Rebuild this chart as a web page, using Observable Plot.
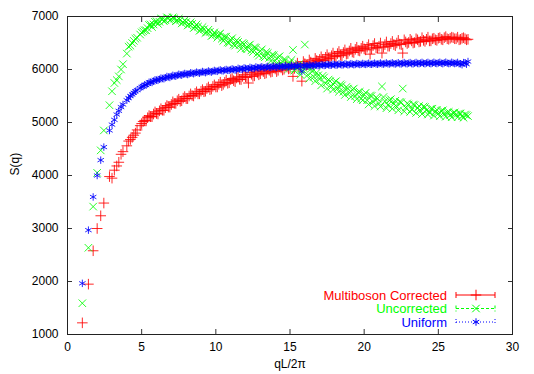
<!DOCTYPE html>
<html><head><meta charset="utf-8">
<script src="https://cdn.jsdelivr.net/npm/d3@7"></script>
<script src="https://cdn.jsdelivr.net/npm/@observablehq/plot@0.6"></script>
<style>
body{margin:0;background:#fff;}
svg{display:block;}
</style>
</head><body><div id="chart"></div>
<script>
// qL/2π positions (shared by the three series)
const q = [
  1, 1.41, 1.73, 2, 2.24, 2.45, 2.83, 3, 3.16, 3.32, 3.46, 3.61, 3.74, 4, 4.12, 4.24, 4.36, 4.47, 4.58, 4.69, 4.9, 5, 5.1, 5.2,
  5.4, 5.6, 5.8, 6, 6.2, 6.4, 6.6, 6.8, 7, 7.2, 7.4, 7.6, 7.8, 8, 8.2, 8.4, 8.6, 8.8, 9, 9.2, 9.4, 9.6, 9.8, 10,
  10.2, 10.4, 10.6, 10.8, 11, 11.2, 11.4, 11.6, 11.8, 12, 12.2, 12.4, 12.6, 12.8, 13, 13.2, 13.4, 13.6, 13.8, 14,
  14.2, 14.4, 14.6, 14.8, 15, 15.2, 15.4, 15.6, 15.8, 16, 16.2, 16.4, 16.6, 16.8, 17, 17.2, 17.4, 17.6, 17.8, 18,
  18.2, 18.4, 18.6, 18.8, 19, 19.2, 19.4, 19.6, 19.8, 20, 20.2, 20.4, 20.6, 20.8, 21, 21.2, 21.4, 21.6, 21.8, 22,
  22.2, 22.4, 22.6, 22.8, 23, 23.2, 23.4, 23.6, 23.8, 24, 24.2, 24.4, 24.6, 24.8, 25, 25.2, 25.4, 25.6, 25.8, 26,
  26.2, 26.4, 26.6, 26.8, 27
];
const multiboson = [
  1220, 1950, 2580, 3000, 3240, 3480, 3980, 3950, 4100, 4180, 4250, 4400, 4450, 4560, 4650, 4680, 4720, 4760, 4800, 4860, 4940, 4980, 5020, 5040,
  5090, 5110, 5160, 5170, 5220, 5230, 5280, 5290, 5340, 5360, 5410, 5400, 5460, 5450, 5500, 5510, 5550, 5540, 5590, 5580, 5640, 5620, 5680, 5670,
  5720, 5695, 5760, 5740, 5810, 5790, 5840, 5815, 5870, 5860, 5745, 5910, 5880, 5935, 5920, 5960, 5935, 5985, 5960, 6010,
  5985, 6030, 6005, 6045, 6020, 5870, 6070, 6050, 5780, 6110, 6090, 6140, 6120, 6170, 6190, 6180, 6230, 6210, 6260, 6250,
  6300, 6270, 6320, 6290, 6350, 6330, 6380, 6360, 6400, 6390, 6420, 6290, 6450, 6410, 6440, 6310, 6470, 6440, 6490, 6470,
  6500, 6480, 6310, 6520, 6510, 6540, 6510, 6560, 6530, 6550, 6570, 6540, 6580, 6560, 6590, 6570, 6600, 6580, 6590, 6600,
  6580, 6560, 6590, 6580, 6570
];
const uncorrected = [
  1590, 2636, 3413, 4050, 4474, 4850, 5326, 5589, 5745, 5800, 5870, 6000, 6100, 6300, 6430, 6450, 6500, 6540, 6580, 6600, 6660, 6700, 6720, 6740,
  6780, 6850, 6850, 6910, 6900, 6950, 6930, 6970, 6950, 6965, 6930, 6935, 6890, 6895, 6850, 6860, 6800, 6810, 6750, 6760, 6700, 6710, 6650, 6660,
  6660, 6580, 6620, 6510, 6560, 6470, 6550, 6460, 6500, 6400, 6450, 6360, 6420, 6300, 6350, 6250, 6330, 6220, 6280, 6170,
  6230, 6120, 6190, 6080, 6130, 6370, 6020, 6100, 5960, 6470, 5900, 6010, 5860, 5940, 5820, 5880, 5740, 5810, 5680, 5760,
  5640, 5720, 5580, 5670, 5560, 5620, 5500, 5570, 5450, 5530, 5420, 5510, 5390, 5470, 5360, 5680, 5400, 5330, 5440, 5350,
  5300, 5390, 5640, 5280, 5340, 5250, 5330, 5270, 5220, 5300, 5230, 5190, 5260, 5200, 5170, 5220, 5160, 5190, 5140, 5180,
  5150, 5170, 5120, 5150, 5120
];
const uniform = [
  1965, 2969, 3595, 4000, 4290, 4536, 4850, 4960, 5050, 5150, 5220, 5290, 5340, 5420, 5460, 5500, 5530, 5560, 5590, 5610, 5650, 5670, 5690, 5710,
  5730, 5760, 5780, 5800, 5815, 5830, 5845, 5860, 5870, 5880, 5890, 5900, 5910, 5915, 5920, 5930, 5935, 5940, 5945, 5950, 5955, 5960, 5965, 5970,
  5982, 5978, 5990, 5985, 5998, 6000, 5995, 6010, 6008, 6020, 6015, 6028, 6022, 6035, 6040, 6036, 6045, 6040, 6050, 6048,
  6055, 6050, 6058, 6052, 6062, 6058, 6066, 6062, 5965, 6072, 6068, 6075, 6072, 6080, 6078, 6085, 6080, 6088, 6084, 6092,
  6088, 6095, 6090, 6098, 6094, 6100, 6096, 6104, 6098, 6102, 6105, 6100, 6108, 6104, 6110, 6106, 6112, 6108, 6114, 6110,
  6114, 6108, 6116, 6112, 6118, 6112, 6118, 6114, 6120, 6116, 6122, 6116, 6120, 6118, 6124, 6118, 6125, 6120, 6115, 6122,
  6118, 6110, 6090, 6125, 6150
];
// interleaved denser sampling of the bands
const qMid = [
  5.3, 5.5, 5.7, 5.9, 6.1, 6.3, 6.5, 6.7, 6.9, 7.1, 7.3, 7.5, 7.7, 7.9, 8.1, 8.3, 8.5, 8.7, 8.9, 9.1, 9.3, 9.5, 9.7, 9.9,
  10.1, 10.3, 10.5, 10.7, 10.9, 11.1, 11.3, 11.5, 11.7, 11.9, 12.1, 12.3, 12.5, 12.7, 12.9, 13.1, 13.3, 13.5, 13.7, 13.9,
  14.1, 14.3, 14.5, 14.7, 14.9, 15.1, 15.3, 15.5, 15.7, 15.9, 16.1, 16.3, 16.5, 16.7, 16.9, 17.1, 17.3, 17.5, 17.7, 17.9,
  18.1, 18.3, 18.5, 18.7, 18.9, 19.1, 19.3, 19.5, 19.7, 19.9, 20.1, 20.3, 20.5, 20.7, 20.9, 21.1, 21.3, 21.5, 21.7, 21.9,
  22.1, 22.3, 22.5, 22.7, 22.9, 23.1, 23.3, 23.5, 23.7, 23.9, 24.1, 24.3, 24.5, 24.7, 24.9, 25.1, 25.3, 25.5, 25.7, 25.9,
  26.1, 26.3, 26.5, 26.7, 26.9
];
const multibosonMid = [
  5030, 5130, 5110, 5200, 5160, 5260, 5230, 5320, 5290, 5390, 5360, 5440, 5410, 5490, 5450, 5540, 5500, 5580, 5540, 5620, 5590, 5670, 5630, 5710,
  5670, 5760, 5720, 5800, 5750, 5830, 5770, 5860, 5810, 5900, 5850, 5940, 5870, 5970, 5900, 5990, 5920, 6010, 5950, 6030,
  5960, 6050, 5990, 6070, 6010, 6090, 6020, 6120, 6050, 6150, 6080, 6180, 6110, 6210, 6150, 6240, 6170, 6280, 6200, 6310,
  6240, 6340, 6260, 6370, 6300, 6400, 6320, 6420, 6350, 6440, 6370, 6470, 6390, 6490, 6410, 6500, 6420, 6520, 6440, 6530,
  6450, 6550, 6470, 6560, 6490, 6570, 6500, 6580, 6520, 6600, 6530, 6610, 6540, 6590, 6550, 6600, 6560, 6620, 6570, 6610,
  6580, 6610, 6570, 6600, 6560
];
const uncorrectedMid = [
  6740, 6840, 6800, 6900, 6860, 6960, 6910, 6985, 6930, 6985, 6910, 6960, 6870, 6930, 6830, 6890, 6780, 6850, 6730, 6800, 6690, 6750, 6630, 6700,
  6600, 6680, 6540, 6620, 6500, 6590, 6450, 6520, 6390, 6480, 6380, 6470, 6330, 6410, 6260, 6380, 6230, 6310, 6160, 6270,
  6110, 6250, 6060, 6180, 6010, 6180, 5980, 6060, 5900, 6030, 6050, 5830, 5960, 5780, 5890, 5700, 5850, 5640, 5780, 5620,
  5780, 5580, 5700, 5520, 5640, 5480, 5640, 5440, 5580, 5420, 5560, 5340, 5500, 5310, 5450, 5300, 5480, 5270, 5420, 5260,
  5410, 5230, 5380, 5210, 5360, 5200, 5340, 5180, 5310, 5160, 5290, 5150, 5260, 5130, 5240, 5120, 5230, 5110, 5200, 5100,
  5190, 5100, 5170, 5090, 5140
];
const uniformMid = [
  5705, 5760, 5755, 5805, 5795, 5838, 5825, 5868, 5850, 5890, 5872, 5910, 5892, 5925, 5905, 5938, 5920, 5950, 5930, 5962, 5940, 5972, 5950, 5982,
  5965, 5992, 5975, 6000, 5985, 6012, 5990, 6022, 6002, 6030, 6008, 6040, 6018, 6048, 6030, 6052, 6032, 6058, 6040, 6064,
  6042, 6066, 6048, 6070, 6052, 6074, 6056, 6078, 6060, 6082, 6064, 6086, 6068, 6090, 6072, 6094, 6076, 6098, 6080, 6100,
  6082, 6104, 6086, 6106, 6088, 6110, 6090, 6112, 6094, 6114, 6096, 6118, 6098, 6120, 6100, 6122, 6102, 6124, 6104, 6126,
  6104, 6128, 6106, 6130, 6108, 6130, 6106, 6132, 6110, 6134, 6108, 6134, 6110, 6136, 6112, 6136, 6110, 6138, 6112, 6136,
  6112, 6134, 6108, 6130, 6100
];
const seriesNames = ["Multiboson Corrected", "Uncorrected", "Uniform"];
const xTicks = [0, 5, 10, 15, 20, 25, 30];
const yTicks = [1000, 2000, 3000, 4000, 5000, 6000, 7000];

const colors = ["#ff0000", "#00ff00", "#0000ff"];
const symbols = ["plus", "times", "asterisk"];
const seriesValues = [[multiboson, multibosonMid], [uncorrected, uncorrectedMid], [uniform, uniformMid]];
const rows = seriesValues.map(([a, b]) => [
  ...q.map((x, i) => ({x, y: a[i]})),
  ...qMid.map((x, i) => ({x, y: b[i]}))
]);

const font = "'Liberation Sans', Arial, Helvetica, sans-serif";

const plot = Plot.plot({
  width: 534,
  height: 374,
  marginLeft: 67,
  marginRight: 22,
  marginTop: 16,
  marginBottom: 40,
  style: {fontFamily: font, fontSize: "12px", color: "#000", background: "#fff"},
  x: {domain: [0, 30]},
  y: {domain: [1000, 7000]},
  marks: [
    ...rows.map((data, k) => Plot.dot(data, {x: "x", y: "y", symbol: () => symbols[k], r: 3.5, stroke: colors[k], strokeWidth: 1, strokeOpacity: 0.85, fill: "none"})),
    Plot.axisX({ticks: xTicks, tickSize: 0, tickPadding: 8, label: null, fontSize: 12}),
    Plot.axisY({ticks: yTicks, tickSize: 0, tickPadding: 9, tickFormat: "d", label: null, fontSize: 12}),
    Plot.axisX({ticks: xTicks, anchor: "bottom", tickSize: -5, tickFormat: () => "", label: null, stroke: "#333"}),
    Plot.axisX({ticks: xTicks, anchor: "top", tickSize: -5, tickFormat: () => "", label: null, stroke: "#333"}),
    Plot.axisY({ticks: yTicks, anchor: "left", tickSize: -5, tickFormat: () => "", label: null, stroke: "#333"}),
    Plot.axisY({ticks: yTicks, anchor: "right", tickSize: -5, tickFormat: () => "", label: null, stroke: "#333"}),
    Plot.frame({stroke: "#222"}),
    Plot.text(["S(q)"], {frameAnchor: "left", dx: -52, rotate: -90, fontSize: 12}),
    Plot.text(["qL/2π"], {frameAnchor: "bottom", dy: 33, fontSize: 12})
  ]
});
document.getElementById("chart").appendChild(plot);

// Legend (gnuplot style, inside lower right)
const svg = d3.select(plot);
const dashes = [null, "3,2", "1,2"];
const d3sym = [d3.symbolPlus, d3.symbolTimes, d3.symbolAsterisk];
const lg = svg.append("g").attr("font-family", font).attr("font-size", 13);
seriesNames.forEach((name, k) => {
  const cy = 295 + k * 13.5;
  lg.append("text").attr("x", 447).attr("y", cy).attr("dy", "0.35em").attr("text-anchor", "end").attr("fill", colors[k]).text(name);
  const g = lg.append("g").attr("stroke", colors[k]).attr("stroke-width", 1).attr("fill", "none");
  g.append("line").attr("x1", 456).attr("x2", 495).attr("y1", cy).attr("y2", cy).attr("stroke-dasharray", dashes[k]);
  g.append("line").attr("x1", 456).attr("x2", 456).attr("y1", cy - 3).attr("y2", cy + 3).attr("stroke-dasharray", dashes[k]);
  g.append("line").attr("x1", 495).attr("x2", 495).attr("y1", cy - 3).attr("y2", cy + 3).attr("stroke-dasharray", dashes[k]);
  g.append("path").attr("transform", `translate(476,${cy})`).attr("d", d3.symbol(d3sym[k], Math.PI * 3.5 * 3.5)());
});
</script>
</body></html>
